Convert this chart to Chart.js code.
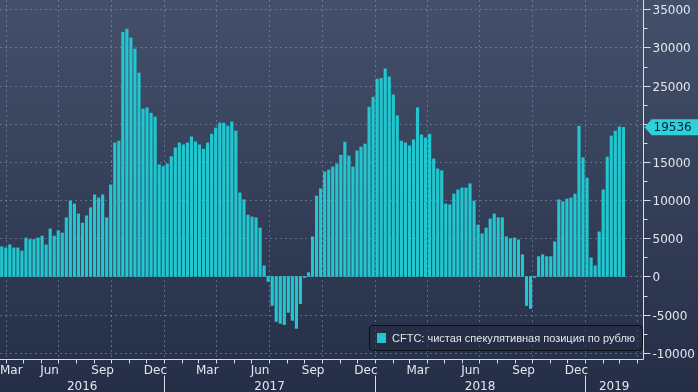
<!DOCTYPE html>
<html>
<head>
<meta charset="utf-8">
<script src="https://cdn.jsdelivr.net/npm/chart.js@4.4.1/dist/chart.umd.min.js"></script>
<style>
    html, body { margin: 0; padding: 0; background: #2a3350; }
    #wrap { width: 698px; height: 392px; position: relative; }
</style>
</head>
<body>
<div id="wrap"><canvas id="cftcChart"></canvas></div>
<script>
// ---------------- Datos ----------------

const seriesLabel = 'CFTC: чистая спекулятивная позиция по рублю';
const firstWeek = '2016-03-25';          // primera barra, luego una por semana
const xRange = ['2016-03-22', '2019-04-11'];

const netPosition = [
    3900, 3750, 4150, 3750, 3750, 3350, 5050, 4850, 4850, 5050,
    5300, 4150, 6250, 5300, 6000, 5700, 7700, 9900, 9500, 8200,
    7000, 7950, 9000, 10700, 10300, 10700, 7700, 12000, 17500, 17750,
    32000, 32400, 31250, 29800, 26650, 21950, 22100, 21400, 20900, 14650,
    14400, 14750, 15700, 16850, 17500, 17250, 17500, 18300, 17650, 17250,
    16700, 17500, 18650, 19450, 20100, 20100, 19700, 20250, 19050, 10950,
    10050, 8050, 7800, 7700, 6350, 1400, -650, -3800, -5900, -6150,
    -6300, -4700, -5750, -6800, -3550, -130, 500, 5200, 10550, 11500,
    13700, 13950, 14350, 14750, 15900, 17600, 15800, 14350, 16450, 16950,
    17350, 22200, 23500, 25850, 25950, 27200, 26150, 23800, 21050, 17750,
    17500, 17100, 17900, 22100, 18550, 18150, 18650, 15400, 14100, 13850,
    9500, 9400, 10800, 11350, 11600, 11600, 12150, 9900, 6750, 5600,
    6350, 7550, 8200, 7700, 7700, 5200, 4950, 5050, 4800, 2850,
    -3800, -4200, -130, 2600, 2850, 2600, 2600, 4550, 10050, 9800,
    10150, 10300, 10800, 19700, 15550, 12900, 2450, 1400, 5850, 11350,
    15650, 18400, 19050, 19600, 19536
];

const yTicks = [-10000, -5000, 0, 5000, 10000, 15000, 20000, 25000, 30000, 35000];
const yRange = [-10810, 36220];
const monthLabels = { 2: 'Mar', 5: 'Jun', 8: 'Sep', 11: 'Dec' };
const yearLabels = ['2016', '2017', '2018', '2019'];
const lastValue = 19536;

const BAR = '#22c6cf';
const TEXT = '#e4e7ee';

// ---------------- Utilidades de fecha ----------------

const DAY = 86400000;
const EPOCH = Date.UTC(2016, 0, 1);

function dayNum(str) {
    const [y, m, d] = str.split('-').map(Number);
    return (Date.UTC(y, m - 1, d) - EPOCH) / DAY;
}
function dayOf(y, m, d) {
    return (Date.UTC(y, m, d) - EPOCH) / DAY;
}

const start = dayNum(firstWeek);
const points = netPosition.map((v, i) => ({ x: start + i * 7, y: v }));
const lastDay = points[points.length - 1].x;

// ---------------- Decoración (fondo, ejes, leyenda) ----------------

const chartDecor = {
    id: 'chartDecor',
    beforeDraw(chart) {
        const { ctx, chartArea: a, scales: { x, y } } = chart;
        ctx.save();
        const g = ctx.createLinearGradient(0, 0, 0, chart.height);
        g.addColorStop(0, '#44506a');
        g.addColorStop(1, '#252e47');
        ctx.fillStyle = g;
        ctx.fillRect(0, 0, chart.width, chart.height);

        ctx.strokeStyle = 'rgba(125, 145, 178, 0.6)';
        ctx.lineWidth = 1;
        ctx.setLineDash([2, 3]);
        yTicks.forEach(v => {
            const py = Math.round(y.getPixelForValue(v)) + 0.5;
            ctx.beginPath(); ctx.moveTo(a.left, py); ctx.lineTo(a.right, py); ctx.stroke();
        });
        for (let yr = 2016; yr <= 2019; yr++) {
            [0, 3, 6, 9].forEach(m => {
                const d = dayOf(yr, m, 1);
                if (d < x.min || d > x.max) return;
                const px = Math.round(x.getPixelForValue(d)) + 0.5;
                ctx.beginPath(); ctx.moveTo(px, a.top); ctx.lineTo(px, a.bottom); ctx.stroke();
            });
        }
        ctx.restore();
    },
    afterDatasetsDraw(chart) {
        const { ctx, chartArea: a, scales: { x, y } } = chart;
        ctx.save();
        ctx.strokeStyle = '#d9dde5';
        ctx.lineWidth = 1;
        ctx.setLineDash([]);

        // ejes
        const ax = Math.round(a.right) + 0.5;
        const ay = Math.round(a.bottom) + 0.5;
        ctx.beginPath();
        ctx.moveTo(ax, a.top); ctx.lineTo(ax, ay);
        ctx.moveTo(a.left, ay); ctx.lineTo(ax, ay);
        ctx.stroke();

        // eje Y: marcas y etiquetas
        ctx.font = '12px "DejaVu Sans"';
        ctx.fillStyle = TEXT;
        ctx.textBaseline = 'middle';
        ctx.textAlign = 'left';
        for (let v = yTicks[0]; v <= yTicks[yTicks.length - 1]; v += 2500) {
            const py = Math.round(y.getPixelForValue(v)) + 0.5;
            const major = v % 5000 === 0;
            ctx.beginPath(); ctx.moveTo(ax, py); ctx.lineTo(ax + (major ? 7 : 4), py); ctx.stroke();
            if (major) ctx.fillText(String(v), ax + 9, py + 1);
        }

        // eje X: meses
        ctx.textAlign = 'center';
        for (let yr = 2016; yr <= 2019; yr++) {
            for (let m = 0; m < 12; m++) {
                const d0 = dayOf(yr, m, 1), d1 = dayOf(yr, m + 1, 1);
                if (d0 >= x.min && d0 <= x.max) {
                    const px = Math.round(x.getPixelForValue(d0)) + 0.5;
                    ctx.beginPath(); ctx.moveTo(px, ay); ctx.lineTo(px, ay + 4); ctx.stroke();
                    if (m === 0) {
                        ctx.beginPath(); ctx.moveTo(px, ay + 16); ctx.lineTo(px, chart.height); ctx.stroke();
                    }
                }
                const label = monthLabels[m];
                if (!label || d1 < x.min || d1 > lastDay) continue;
                let cx = (x.getPixelForValue(d0) + x.getPixelForValue(d1)) / 2;
                const w = ctx.measureText(label).width;
                cx = Math.max(cx, a.left + w / 2);
                ctx.fillText(label, cx, ay + 11);
            }
        }

        // eje X: años
        yearLabels.forEach(yl => {
            const yr = Number(yl);
            const l = Math.max(x.getPixelForValue(dayOf(yr, 0, 1)), a.left);
            const r = Math.min(x.getPixelForValue(dayOf(yr + 1, 0, 1)), a.right);
            ctx.fillText(yl, (l + r) / 2, ay + 27);
        });

        // leyenda
        const lg = { x: 369.5, y: 325.5, w: 273, h: 25 };
        ctx.beginPath();
        ctx.roundRect(lg.x, lg.y, lg.w, lg.h, 3);
        ctx.fillStyle = 'rgba(34, 42, 64, 0.55)';
        ctx.fill();
        ctx.strokeStyle = '#0c1018';
        ctx.stroke();
        ctx.fillStyle = BAR;
        ctx.fillRect(377, 333, 9, 10);
        ctx.fillStyle = TEXT;
        ctx.textAlign = 'left';
        ctx.font = '11px "Liberation Sans"';
        ctx.fillText(chart.data.datasets[0].label, 392, lg.y + 13);

        // etiqueta del último valor
        const ty = y.getPixelForValue(lastValue);
        ctx.beginPath();
        ctx.moveTo(ax + 1, ty);
        ctx.lineTo(ax + 8, ty - 8);
        ctx.lineTo(chart.width, ty - 8);
        ctx.lineTo(chart.width, ty + 8);
        ctx.lineTo(ax + 8, ty + 8);
        ctx.closePath();
        ctx.fillStyle = '#2bd2da';
        ctx.fill();
        ctx.fillStyle = '#102038';
        ctx.font = '12px "DejaVu Sans"';
        ctx.fillText(String(lastValue), ax + 10, ty + 1);

        ctx.restore();
    }
};

// ---------------- Gráfica ----------------

new Chart(document.getElementById('cftcChart'), {
    type: 'bar',
    data: {
        datasets: [{
            label: seriesLabel,
            data: points,
            backgroundColor: BAR,
            borderWidth: 0,
            barThickness: 2.5
        }]
    },
    options: {
        responsive: true,
        maintainAspectRatio: false,
        animation: false,
        layout: { padding: { left: 0, top: 0, right: 55, bottom: 33 } },
        plugins: {
            legend: { display: false },
            tooltip: { enabled: false }
        },
        scales: {
            x: {
                type: 'linear', display: false, offset: false, bounds: 'data',
                min: dayNum(xRange[0]), max: dayNum(xRange[1]),
                grid: { offset: false }
            },
            y: { type: 'linear', display: false, min: yRange[0], max: yRange[1] }
        }
    },
    plugins: [chartDecor]
});
</script>
</body>
</html>
